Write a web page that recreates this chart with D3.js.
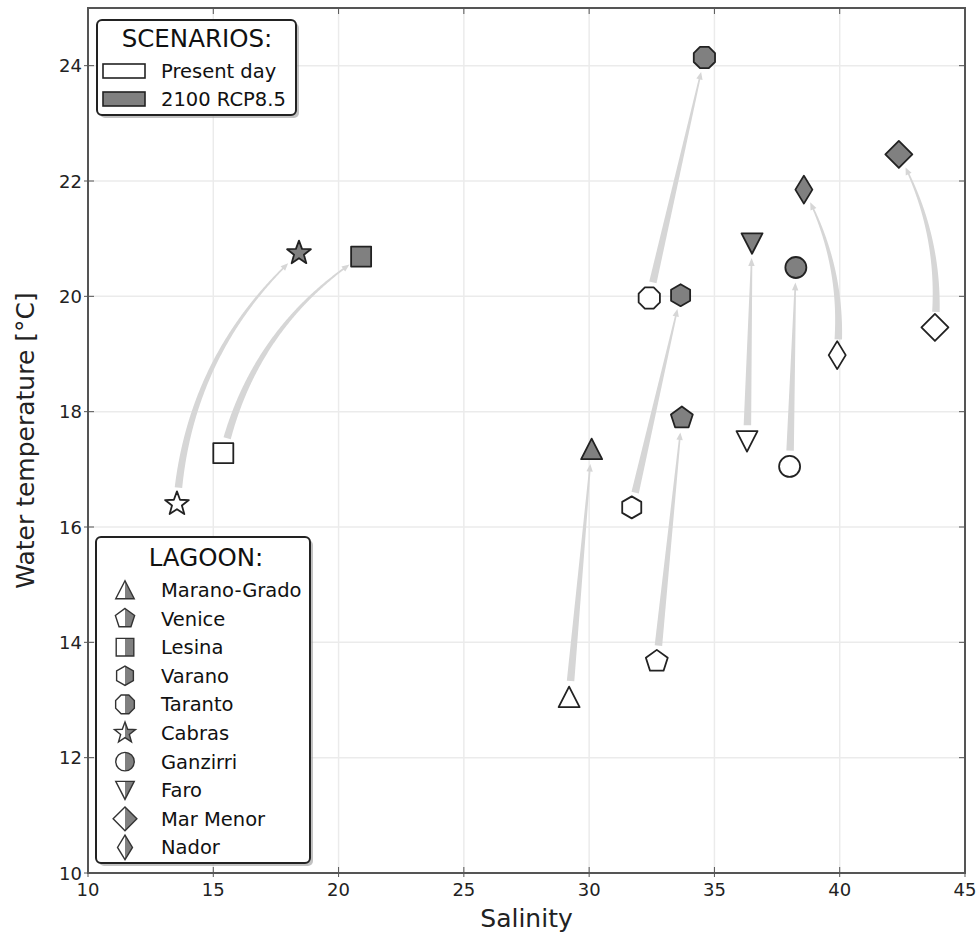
<!DOCTYPE html>
<html>
<head>
<meta charset="utf-8">
<script src="https://cdn.jsdelivr.net/npm/d3@7"></script>
<style>
  html, body { margin: 0; padding: 0; background: #fff; }
  svg { display: block; font-family: "DejaVu Sans", sans-serif; }
</style>
</head>
<body>
<svg id="chart" width="976" height="936"></svg>
<script>
// ─── Lagoon temperature / salinity scenarios ────────────────

const lagoons = ["Marano-Grado", "Venice", "Lesina", "Varano", "Taranto",
                 "Cabras", "Ganzirri", "Faro", "Mar Menor", "Nador"];
const markerShapes = ["triangleUp", "pentagon", "square", "hexagon", "octagon",
                      "star", "circle", "triangleDown", "diamond", "thinDiamond"];

const salinityPresent = [29.2, 32.7, 15.4, 31.7, 32.4, 13.55, 38.0, 36.3, 43.8, 39.9];
const tempPresent     = [13.05, 13.67, 17.28, 16.34, 19.97, 16.40, 17.05, 17.49, 19.46, 18.98];
const salinity2100    = [30.1, 33.7, 20.9, 33.65, 34.6, 18.42, 38.25, 36.5, 42.36, 38.57];
const temp2100        = [17.35, 17.89, 20.69, 20.02, 24.14, 20.75, 20.50, 20.92, 22.46, 21.85];

// arc bend of each arrow (0 = straight)
const arrowBend = [0, 0, 0.2, 0, 0, 0.2, 0, 0, -0.15, -0.15];

const scenarios = ["Present day", "2100 RCP8.5"];
const xTicks = [10, 15, 20, 25, 30, 35, 40, 45];
const yTicks = [10, 12, 14, 16, 18, 20, 22, 24];

const GREY = "#808080";
const INK = "#222";
const ARROW = "#d6d6d6";

const svg = d3.select("#chart");
const x = d3.scaleLinear().domain([10, 45]).range([88, 965]);
const y = d3.scaleLinear().domain([10, 25]).range([873, 8]);

// ─── Marker shapes ───────────────────────────────────────────
const closedLine = d3.line().curve(d3.curveLinearClosed);

function regular(n, r, rot) {
  return d3.range(n).map(i => {
    const a = rot + i * 2 * Math.PI / n;
    return [r * Math.sin(a), -r * Math.cos(a)];
  });
}

function shapePath(type, k) {
  k = k || 1;
  switch (type) {
    case "circle":
      return d3.symbol(d3.symbolCircle).size(Math.PI * Math.pow(10.5 * k, 2))();
    case "square": {
      const h = 10 * k;
      return closedLine([[-h, -h], [h, -h], [h, h], [-h, h]]);
    }
    case "triangleUp": {
      const h = 10.5 * k;
      return closedLine([[0, -h], [h, h * 0.95], [-h, h * 0.95]]);
    }
    case "triangleDown": {
      const h = 10.5 * k;
      return closedLine([[0, h], [h, -h * 0.95], [-h, -h * 0.95]]);
    }
    case "pentagon":
      return closedLine(regular(5, 11.5 * k, 0));
    case "hexagon":
      return closedLine(regular(6, 11 * k, 0));
    case "octagon":
      return closedLine(regular(8, 11.5 * k, Math.PI / 8));
    case "star": {
      const pts = d3.range(10).map(i => {
        const r = (i % 2 === 0 ? 12.5 : 5.2) * k;
        const a = i * Math.PI / 5;
        return [r * Math.sin(a), -r * Math.cos(a)];
      });
      return closedLine(pts);
    }
    case "diamond": {
      const h = 13.5 * k;
      return closedLine([[0, -h], [h, 0], [0, h], [-h, 0]]);
    }
    case "thinDiamond": {
      const w = 8.5 * k, h = 14 * k;
      return closedLine([[0, -h], [w, 0], [0, h], [-w, 0]]);
    }
  }
}

// ─── Grid and frame ──────────────────────────────────────────
const grid = svg.append("g").attr("class", "grid");
grid.selectAll("line.gx").data(xTicks.slice(1, -1)).join("line")
  .attr("x1", d => x(d)).attr("x2", d => x(d))
  .attr("y1", y(25)).attr("y2", y(10))
  .attr("stroke", "#ebebeb").attr("stroke-width", 1.5);
grid.selectAll("line.gy").data(yTicks.slice(1)).join("line")
  .attr("y1", d => y(d)).attr("y2", d => y(d))
  .attr("x1", x(10)).attr("x2", x(45))
  .attr("stroke", "#ebebeb").attr("stroke-width", 1.5);

const tickIn = 6, tickOut = 4;
const axes = svg.append("g").attr("class", "axes");
axes.selectAll("line.tb").data(xTicks).join("line")
  .attr("x1", d => x(d)).attr("x2", d => x(d))
  .attr("y1", y(10) + tickOut).attr("y2", y(10) - tickIn)
  .attr("stroke", "#555").attr("stroke-width", 1);
axes.selectAll("line.tt").data(xTicks).join("line")
  .attr("x1", d => x(d)).attr("x2", d => x(d))
  .attr("y1", y(25)).attr("y2", y(25) + tickIn)
  .attr("stroke", "#555").attr("stroke-width", 1);
axes.selectAll("line.tl").data(yTicks).join("line")
  .attr("y1", d => y(d)).attr("y2", d => y(d))
  .attr("x1", x(10) - tickOut).attr("x2", x(10) + tickIn)
  .attr("stroke", "#555").attr("stroke-width", 1);
axes.selectAll("line.tr").data(yTicks).join("line")
  .attr("y1", d => y(d)).attr("y2", d => y(d))
  .attr("x1", x(45)).attr("x2", x(45) - tickIn)
  .attr("stroke", "#555").attr("stroke-width", 1);

axes.selectAll("text.xl").data(xTicks).join("text")
  .attr("x", d => x(d)).attr("y", y(10) + 23)
  .attr("text-anchor", "middle")
  .attr("font-size", 18).attr("fill", "#222")
  .text(d => d);
axes.selectAll("text.yl").data(yTicks).join("text")
  .attr("x", x(10) - 6).attr("y", d => y(d) + 6.5)
  .attr("text-anchor", "end")
  .attr("font-size", 18).attr("fill", "#222")
  .text(d => d);

svg.append("text")
  .attr("x", (x(10) + x(45)) / 2).attr("y", 927)
  .attr("text-anchor", "middle")
  .attr("font-size", 25).attr("fill", "#222")
  .text("Salinity");
svg.append("text")
  .attr("transform", `translate(34,${(y(10) + y(25)) / 2}) rotate(-90)`)
  .attr("text-anchor", "middle")
  .attr("font-size", 25).attr("fill", "#222")
  .text("Water temperature [°C]");

// ─── Arrows (tapered, curved) ────────────────────────────────
function arrowPath(i) {
  const p0 = [x(salinityPresent[i]), y(tempPresent[i])];
  const p2 = [x(salinity2100[i]), y(temp2100[i])];
  const dx = p2[0] - p0[0], dy = p2[1] - p0[1];
  const rad = arrowBend[i];
  const c = [(p0[0] + p2[0]) / 2 + rad * dy, (p0[1] + p2[1]) / 2 - rad * dx];
  const bez = t => [
    (1 - t) * (1 - t) * p0[0] + 2 * (1 - t) * t * c[0] + t * t * p2[0],
    (1 - t) * (1 - t) * p0[1] + 2 * (1 - t) * t * c[1] + t * t * p2[1]
  ];
  const dist = (a, b) => Math.hypot(a[0] - b[0], a[1] - b[1]);
  const pts = d3.range(0, 1.0001, 0.005).map(bez)
    .filter(p => dist(p, p0) > 15 && dist(p, p2) > 14);
  const n = pts.length;
  const headLen = 7, headW = 3.2;
  // find where head begins
  let headStart = n - 1, acc = 0;
  for (let j = n - 1; j > 0; j--) {
    acc += dist(pts[j], pts[j - 1]);
    if (acc >= headLen) { headStart = j - 1; break; }
  }
  const shaft = pts.slice(0, headStart + 1);
  const left = [], right = [];
  shaft.forEach((p, j) => {
    const q = shaft[Math.min(j + 1, shaft.length - 1)];
    const pr = shaft[Math.max(j - 1, 0)];
    let tx = q[0] - pr[0], ty = q[1] - pr[1];
    const L = Math.hypot(tx, ty) || 1;
    tx /= L; ty /= L;
    const w = (7.5 - 5.8 * j / Math.max(shaft.length - 1, 1)) / 2;
    left.push([p[0] - ty * w, p[1] + tx * w]);
    right.push([p[0] + ty * w, p[1] - tx * w]);
  });
  const hb = pts[headStart], tip = pts[n - 1];
  let hx = tip[0] - hb[0], hy = tip[1] - hb[1];
  const HL = Math.hypot(hx, hy) || 1;
  hx /= HL; hy /= HL;
  const head = [[hb[0] - hy * headW, hb[1] + hx * headW], tip, [hb[0] + hy * headW, hb[1] - hx * headW]];
  return closedLine(left.concat(head, right.reverse()));
}

svg.append("g").attr("class", "arrows")
  .selectAll("path").data(d3.range(lagoons.length)).join("path")
  .attr("d", i => arrowPath(i))
  .attr("fill", ARROW).attr("stroke", "none");

// ─── Markers ─────────────────────────────────────────────────
const marks = svg.append("g").attr("class", "markers");
marks.selectAll("path.present").data(d3.range(lagoons.length)).join("path")
  .attr("class", "present")
  .attr("transform", i => `translate(${x(salinityPresent[i])},${y(tempPresent[i])})`)
  .attr("d", i => shapePath(markerShapes[i]))
  .attr("fill", "#fff").attr("stroke", INK).attr("stroke-width", 1.8)
  .attr("stroke-linejoin", "round");
marks.selectAll("path.future").data(d3.range(lagoons.length)).join("path")
  .attr("class", "future")
  .attr("transform", i => `translate(${x(salinity2100[i])},${y(temp2100[i])})`)
  .attr("d", i => shapePath(markerShapes[i]))
  .attr("fill", GREY).attr("stroke", INK).attr("stroke-width", 1.8)
  .attr("stroke-linejoin", "round");

// frame on top
svg.append("rect")
  .attr("x", x(10)).attr("y", y(25))
  .attr("width", x(45) - x(10)).attr("height", y(10) - y(25))
  .attr("fill", "none").attr("stroke", "#555").attr("stroke-width", 2);

// ─── Legends ─────────────────────────────────────────────────
function legendBox(g, bx, by, bw, bh) {
  g.append("rect").attr("x", bx + 3).attr("y", by + 3)
    .attr("width", bw).attr("height", bh).attr("rx", 5)
    .attr("fill", "#999").attr("opacity", 0.6);
  g.append("rect").attr("x", bx).attr("y", by)
    .attr("width", bw).attr("height", bh).attr("rx", 5)
    .attr("fill", "#fff").attr("stroke", INK).attr("stroke-width", 2);
}

const scen = svg.append("g").attr("class", "legend-scenarios");
legendBox(scen, 97, 20, 199, 95);
scen.append("text").attr("x", 197).attr("y", 47)
  .attr("text-anchor", "middle").attr("font-size", 24.5).attr("fill", "#111")
  .text("SCENARIOS:");
const scenRow = scen.selectAll("g.row").data(scenarios).join("g")
  .attr("transform", (d, i) => `translate(0,${71 + i * 28})`);
scenRow.append("rect")
  .attr("x", 103).attr("y", -7).attr("width", 42).attr("height", 14)
  .attr("fill", (d, i) => i === 0 ? "#fff" : GREY)
  .attr("stroke", INK).attr("stroke-width", 1.6);
scenRow.append("text")
  .attr("x", 161).attr("y", 7)
  .attr("font-size", 19.5).attr("fill", "#111")
  .text(d => d);

const lag = svg.append("g").attr("class", "legend-lagoon");
legendBox(lag, 96, 537, 214, 326);
lag.append("text").attr("x", 206).attr("y", 566)
  .attr("text-anchor", "middle").attr("font-size", 24.5).attr("fill", "#111")
  .text("LAGOON:");

svg.append("defs").append("clipPath").attr("id", "right-half")
  .append("rect").attr("x", 0).attr("y", -20).attr("width", 20).attr("height", 40);

const lagRow = lag.selectAll("g.row").data(lagoons).join("g")
  .attr("transform", (d, i) => `translate(0,${590 + i * 28.6})`);
const sym = lagRow.append("g").attr("transform", "translate(125,0)");
sym.append("path")
  .attr("d", (d, i) => shapePath(markerShapes[i], 0.88))
  .attr("fill", "#fff");
sym.append("path")
  .attr("d", (d, i) => shapePath(markerShapes[i], 0.88))
  .attr("fill", GREY).attr("clip-path", "url(#right-half)");
sym.append("path")
  .attr("d", (d, i) => shapePath(markerShapes[i], 0.88))
  .attr("fill", "none").attr("stroke", "#333").attr("stroke-width", 1.4);
lagRow.append("text")
  .attr("x", 161).attr("y", 7)
  .attr("font-size", 19.5).attr("fill", "#111")
  .text(d => d);
</script>
</body>
</html>
